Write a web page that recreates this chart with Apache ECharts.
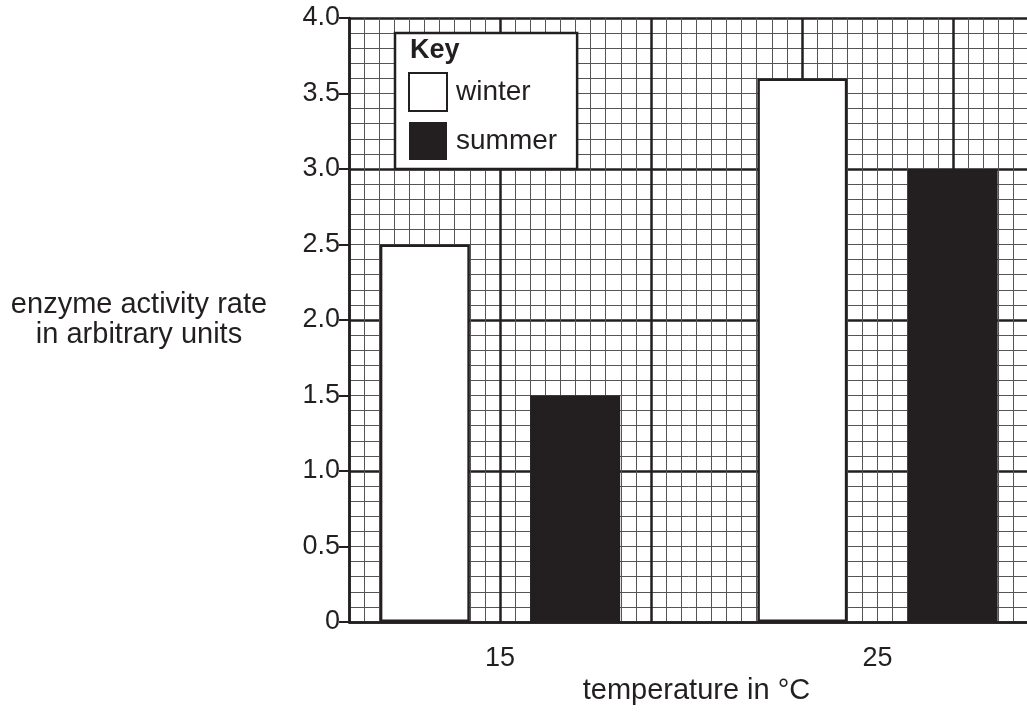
<!DOCTYPE html>
<html>
<head>
<meta charset="UTF-8">
<title>enzyme activity</title>
<style>
  * { margin: 0; padding: 0; }
  body { background: #fff; }
  #main { width: 1027px; height: 712px; }
</style>
<script src="https://cdn.jsdelivr.net/npm/echarts@6/dist/echarts.min.js"></script>
</head>
<body>
<div id="main"></div>
<script>
  // values
  var temps = [15, 25];
  var winter = [2.5, 3.6];
  var summer = [1.5, 3.0];
  var seriesNames = ['winter', 'summer'];

  var ink = '#231f20';
  var font = 'Liberation Sans, Arial, sans-serif';

  function pairs(xs, ys) {
    var out = [];
    for (var i = 0; i < xs.length; i++) out.push([xs[i], ys[i]]);
    return out;
  }

  var chart = echarts.init(document.getElementById('main'));
  var option = {
    backgroundColor: '#fff',
    animation: false,
    textStyle: { fontFamily: font, color: ink },
    title: {
      text: 'Key',
      left: 410,
      top: 37,
      padding: 0,
      textStyle: { fontFamily: font, fontSize: 27, fontWeight: 'bold', color: ink }
    },
    legend: {
      data: seriesNames,
      orient: 'vertical',
      icon: 'rect',
      left: 395,
      top: 33,
      padding: [39, 20, 9, 13],
      itemWidth: 38,
      itemHeight: 38,
      itemGap: 10,
      backgroundColor: '#fff',
      borderColor: ink,
      borderWidth: 2.5,
      textStyle: { fontFamily: font, fontSize: 28, color: ink, padding: [0, 0, 0, 4] }
    },
    // the paper runs past the right edge of the picture
    grid: { left: 349, top: 18, right: -77, bottom: 90, containLabel: false, outerBoundsMode: 'none' },
    xAxis: [{
      // temperature axis used for the bars
      type: 'value',
      min: 11,
      max: 31,
      interval: 1,
      name: 'temperature in °C',
      nameLocation: 'middle',
      nameGap: 68,
      nameTextStyle: { fontFamily: font, fontSize: 29, color: ink, verticalAlign: 'middle', align: 'center', padding: [0, 60, 0, 0] },
      axisLine: { lineStyle: { color: ink, width: 2.5 } },
      axisTick: { show: false },
      splitLine: { show: false },
      axisLabel: {
        fontFamily: font, fontSize: 27, color: ink, margin: 23,
        formatter: function (v) { return temps.indexOf(v) >= 0 ? String(v) : ''; }
      }
    }, {
      // graph paper columns
      type: 'value',
      min: 0,
      max: 50,
      interval: 10,
      show: true,
      axisLine: { show: false },
      axisTick: { show: false },
      axisLabel: { show: false },
      splitLine: { lineStyle: { color: ink, width: 2.5 } },
      minorTick: { show: false, splitNumber: 10 },
      minorSplitLine: { show: true, lineStyle: { color: '#555', width: 1 } }
    }],
    yAxis: [{
      type: 'value',
      min: 0,
      max: 4,
      interval: 0.5,
      name: 'enzyme activity rate\nin arbitrary units',
      nameLocation: 'middle',
      nameRotate: 0,
      nameGap: 210,
      nameTextStyle: { fontFamily: font, fontSize: 29, lineHeight: 30, color: ink, align: 'center', padding: [0, 0, 16, 0] },
      axisLine: { show: true, lineStyle: { color: ink, width: 2.5 } },
      axisTick: { show: true, length: 10, lineStyle: { color: ink, width: 2 } },
      splitLine: { show: false },
      axisLabel: {
        fontFamily: font, fontSize: 27, color: ink, margin: 9,
        formatter: function (v) { return v === 0 ? '0' : v.toFixed(1); }
      }
    }, {
      // graph paper rows
      type: 'value',
      min: 0,
      max: 40,
      interval: 10,
      axisLine: { show: false },
      axisTick: { show: false },
      axisLabel: { show: false },
      splitLine: { lineStyle: { color: ink, width: 2.5 } },
      minorTick: { show: false, splitNumber: 10 },
      minorSplitLine: { show: true, lineStyle: { color: '#555', width: 1 } }
    }],
    series: [{
      name: seriesNames[0],
      type: 'bar',
      xAxisIndex: 0,
      yAxisIndex: 0,
      barWidth: 90,
      barGap: '67%',
      data: pairs(temps, winter),
      itemStyle: { color: '#fff', borderColor: ink, borderWidth: 2.5 }
    }, {
      name: seriesNames[1],
      type: 'bar',
      xAxisIndex: 0,
      yAxisIndex: 0,
      barWidth: 90,
      barGap: '67%',
      data: pairs(temps, summer),
      itemStyle: { color: ink }
    }]
  };
  chart.setOption(option);
</script>
</body>
</html>
